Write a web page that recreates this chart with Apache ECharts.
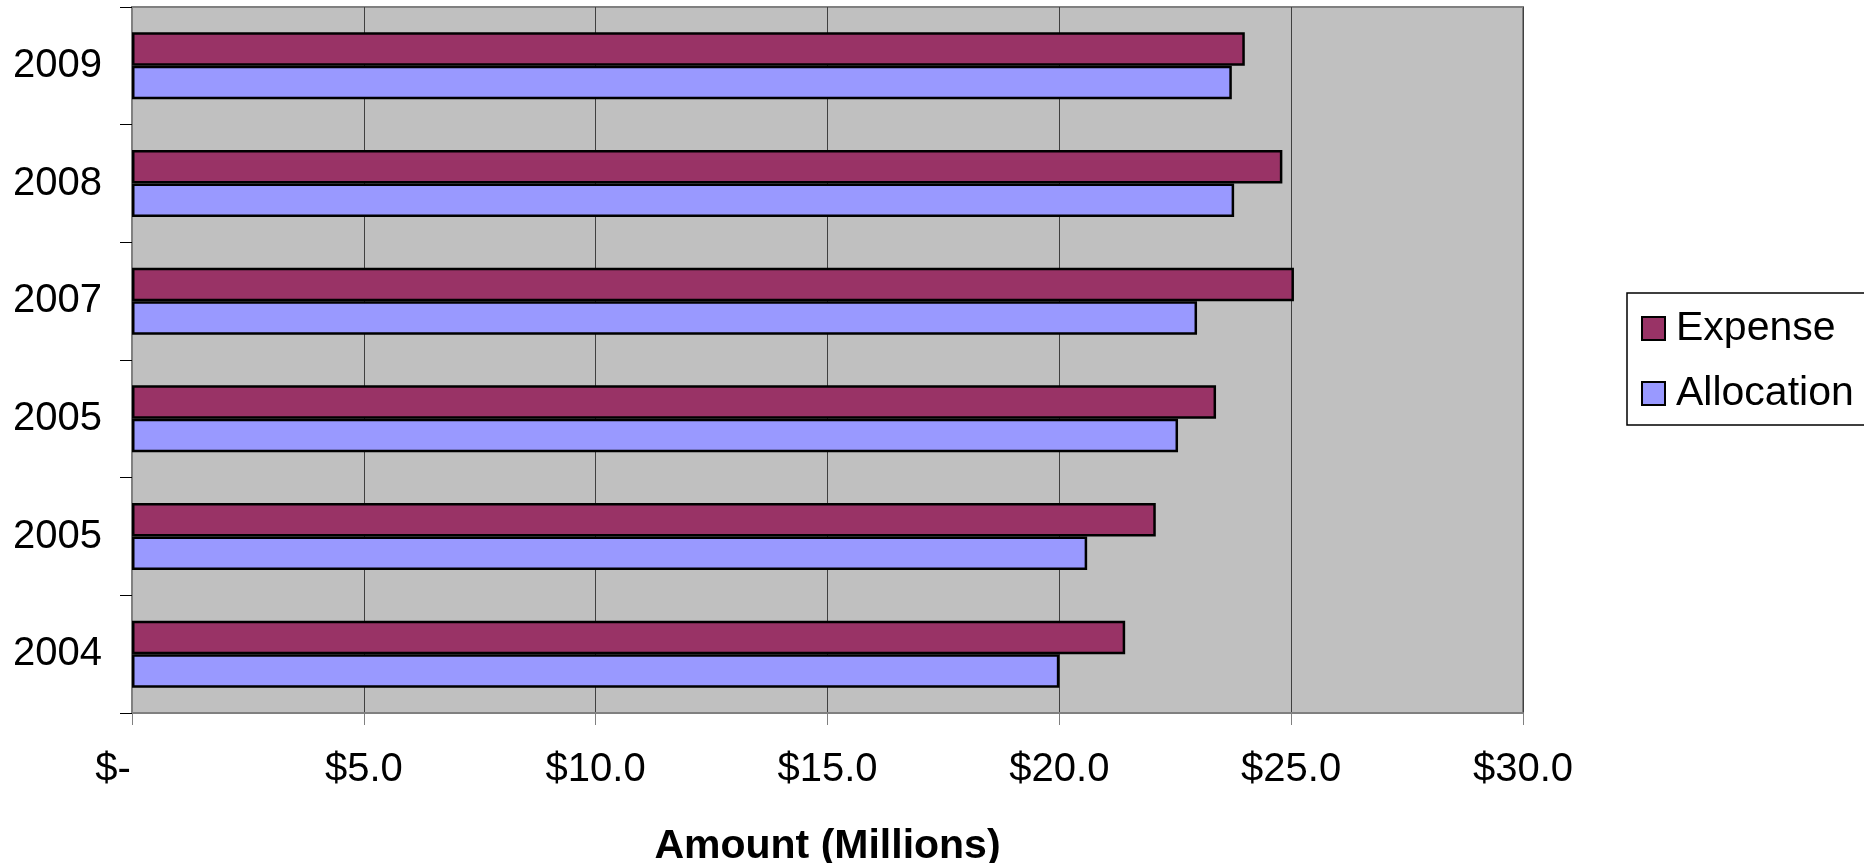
<!DOCTYPE html>
<html>
<head>
<meta charset="utf-8">
<script src="https://cdn.jsdelivr.net/npm/echarts@6/dist/echarts.min.js"></script>
<style>
  html, body { margin: 0; padding: 0; background: #fff; }
  #chart { width: 1864px; height: 863px; }
</style>
</head>
<body>
<div id="chart"></div>
<script>
// categories, bottom to top
const years = ['2004', '2005', '2005', '2007', '2008', '2009']
// values in millions
const expense = [21.42, 22.08, 23.38, 25.06, 24.81, 24.0]
const allocation = [20.0, 20.6, 22.56, 22.97, 23.77, 23.72]
const xTickLabels = ['$-', '$5.0', '$10.0', '$15.0', '$20.0', '$25.0', '$30.0']

const font = "'Liberation Sans', Arial, sans-serif"

let chart = echarts.init(document.getElementById('chart'))
let options = {
  animation: false,
  grid: {
    left: 132,
    top: 7,
    right: 341,
    bottom: 150,
    outerBoundsMode: 'none',
    containLabel: false,
    show: true,
    backgroundColor: '#c0c0c0',
    borderColor: '#808080',
    borderWidth: 2
  },
  legend: {
    orient: 'vertical',
    left: 1627,
    top: 293,
    data: ['Expense', 'Allocation'],
    itemWidth: 23,
    itemHeight: 23,
    itemGap: 24,
    padding: [15, 12, 11, 14],
    backgroundColor: '#fff',
    borderColor: '#000',
    borderWidth: 1.5,
    icon: 'rect',
    itemStyle: { borderColor: '#000', borderWidth: 2 },
    textStyle: { fontFamily: font, fontSize: 41, color: '#000', padding: [0, 0, 0, 6] }
  },
  xAxis: {
    type: 'value',
    min: 0,
    max: 30,
    interval: 5,
    name: 'Amount (Millions)',
    nameLocation: 'middle',
    nameGap: 113,
    nameTextStyle: { fontFamily: font, fontSize: 41, fontWeight: 'bold', color: '#000' },
    axisLine: { show: true, lineStyle: { color: '#808080', width: 2 } },
    axisTick: { show: true, length: 12, lineStyle: { color: '#808080', width: 1 } },
    splitLine: { show: true, lineStyle: { color: '#404040', width: 1 } },
    axisLabel: {
      fontFamily: font,
      fontSize: 40,
      color: '#000',
      margin: 37,
      formatter: function (v) {
        let s = xTickLabels[Math.round(v / 5)]
        return v === 0 ? '{z|' + s + '}' : s
      },
      rich: {
        z: { fontFamily: font, fontSize: 40, color: '#000', padding: [0, 38, 0, 0] }
      }
    }
  },
  yAxis: {
    type: 'category',
    data: years,
    axisLine: { show: true, lineStyle: { color: '#808080', width: 2 } },
    axisTick: { show: true, length: 12, lineStyle: { color: '#000', width: 1 } },
    splitLine: { show: false },
    axisLabel: { fontFamily: font, fontSize: 40, color: '#000', margin: 30 }
  },
  series: [{
    name: 'Expense',
    type: 'bar',
    data: expense,
    barGap: '0%',
    barCategoryGap: '43%',
    itemStyle: { color: '#993366', borderColor: '#000', borderWidth: 2.5 }
  }, {
    name: 'Allocation',
    type: 'bar',
    data: allocation,
    barGap: '0%',
    barCategoryGap: '43%',
    itemStyle: { color: '#9999ff', borderColor: '#000', borderWidth: 2.5 }
  }]
}
chart.setOption(options)
</script>
</body>
</html>
